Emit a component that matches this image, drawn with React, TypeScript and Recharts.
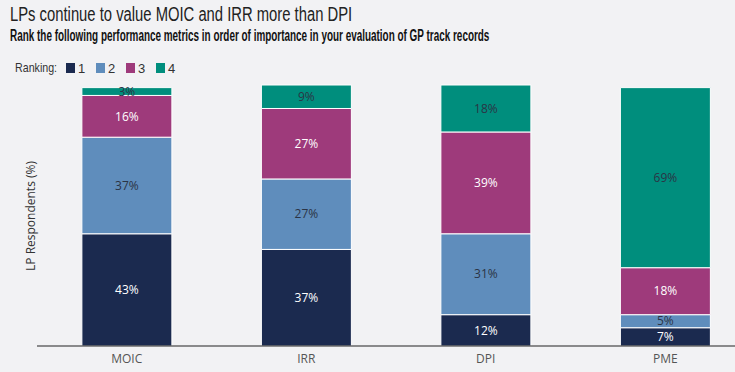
import { BarChart, Bar, XAxis, YAxis, LabelList } from "recharts";

const metrics = ["MOIC", "IRR", "DPI", "PME"];
const rank1 = [43, 37, 12, 7];
const rank2 = [37, 27, 31, 5];
const rank3 = [16, 27, 39, 18];
const rank4 = [3, 9, 18, 69];

const rankNames = ["1", "2", "3", "4"];
const rankColors = ["#1b2a4f", "#5f8dbc", "#9e3a7b", "#008e7d"];
const labelColors = ["#ffffff", "#2b3445", "#ffffff", "#2b3445"];

const data = metrics.map((m, i) => ({
  metric: m,
  r1: rank1[i],
  r2: rank2[i],
  r3: rank3[i],
  r4: rank4[i],
}));

const keys = ["r1", "r2", "r3", "r4"];

export default function App() {
  return (
    <div
      style={{
        position: "absolute",
        left: 0,
        top: 0,
        width: 735,
        height: 372,
        overflow: "hidden",
        background: "#f2f2f4",
        fontFamily: "'Open Sans', sans-serif",
      }}
    >
      <div
        style={{
          position: "absolute",
          left: 10,
          top: 3,
          fontFamily: "'Liberation Sans Narrow', sans-serif",
          fontSize: 20,
          color: "#222",
          whiteSpace: "nowrap",
          transformOrigin: "left top",
          transform: "scaleX(0.74)",
        }}
      >
        LPs continue to value MOIC and IRR more than DPI
      </div>
      <div
        style={{
          position: "absolute",
          left: 10,
          top: 27,
          fontFamily: "'Liberation Sans Narrow', sans-serif",
          fontWeight: 700,
          fontSize: 16,
          color: "#111",
          whiteSpace: "nowrap",
          transformOrigin: "left top",
          transform: "scaleX(0.62)",
        }}
      >
        Rank the following performance metrics in order of importance in your evaluation of GP track records
      </div>
      <div
        style={{
          position: "absolute",
          left: 15,
          top: 60,
          fontFamily: "'Liberation Sans Narrow', sans-serif",
          fontSize: 13,
          color: "#333",
          whiteSpace: "nowrap",
          transformOrigin: "left top",
          transform: "scaleX(0.82)",
        }}
      >
        Ranking:
      </div>
      {rankNames.map((n, i) => (
        <div
          key={n}
          style={{
            position: "absolute",
            left: 66 + i * 30,
            top: 60,
            display: "flex",
            alignItems: "center",
            fontFamily: "'Liberation Sans Narrow', sans-serif",
            fontSize: 13,
            color: "#333",
            height: 16,
          }}
        >
          <span
            style={{
              display: "inline-block",
              width: 9,
              height: 10,
              background: rankColors[i],
              marginRight: 3,
            }}
          />
          {n}
        </div>
      ))}
      <div
        style={{
          position: "absolute",
          left: 30,
          top: 216,
          transform: "translate(-50%, -50%) rotate(-90deg)",
          fontSize: 12,
          color: "#333",
          whiteSpace: "nowrap",
        }}
      >
        LP Respondents (%)
      </div>
      <div style={{ position: "absolute", left: 0, top: 0 }}>
        <BarChart
          width={755}
          height={372}
          data={data}
          margin={{ top: 85, right: 0, bottom: 0, left: 37 }}
          barCategoryGap="25%"
        >
          <XAxis
            dataKey="metric"
            height={26}
            tickLine={false}
            axisLine={{ stroke: "#222", strokeWidth: 1 }}
            tick={{ fill: "#555", fontSize: 12 }}
          />
          <YAxis hide domain={[0, 100]} />
          {keys.map((k, i) => (
            <Bar
              key={k}
              dataKey={k}
              stackId="a"
              fill={rankColors[i]}
              stroke="#ffffff"
              strokeWidth={1}
              isAnimationActive={false}
            >
              <LabelList
                dataKey={k}
                position="center"
                formatter={(v: number) => `${v}%`}
                fill={labelColors[i]}
                fontSize={12}
              />
            </Bar>
          ))}
        </BarChart>
      </div>
    </div>
  );
}
